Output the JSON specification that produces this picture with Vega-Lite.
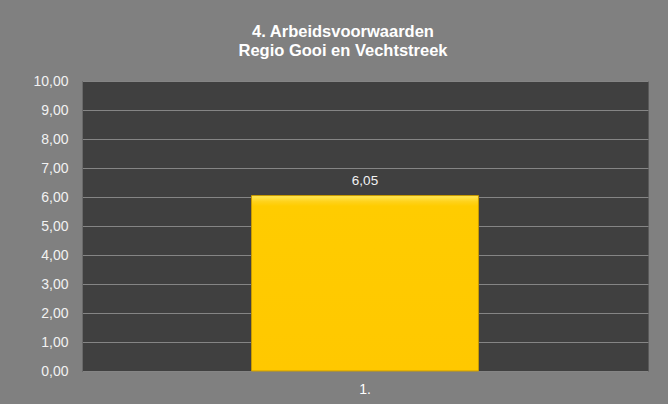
{
  "$schema": "https://vega.github.io/schema/vega-lite/v6.json",
  "width": 566,
  "height": 290,
  "autosize": {"type": "none"},
  "padding": {"left": 82, "top": 81, "right": 20, "bottom": 33},
  "background": "#808080",
  "config": {
    "locale": {"number": {"decimal": ",", "thousands": ".", "grouping": [3], "currency": ["€", ""]}},
    "font": "Liberation Sans",
    "view": {"fill": "#404040", "stroke": "#5a5a5a", "strokeWidth": 1}
  },
  "title": {
    "text": ["4. Arbeidsvoorwaarden", "Regio Gooi en Vechtstreek"],
    "font": "Liberation Sans",
    "fontSize": 16.5,
    "fontWeight": "bold",
    "color": "#ffffff",
    "anchor": "middle",
    "frame": "group",
    "dx": -22,
    "lineHeight": 19,
    "offset": 15
  },
  "data": {"values": [{"cat": "1.", "value": 6.05}]},
  "encoding": {
    "x": {
      "field": "cat",
      "type": "nominal",
      "scale": {"paddingInner": 0, "paddingOuter": 0.747},
      "axis": {
        "title": null,
        "labelAngle": 0,
        "labelColor": "#ffffff",
        "labelFont": "Liberation Sans",
        "labelFontSize": 14,
        "labelPadding": 11,
        "ticks": false,
        "domain": false
      }
    },
    "y": {
      "field": "value",
      "type": "quantitative",
      "scale": {"domain": [0, 10]},
      "axis": {
        "title": null,
        "values": [0, 1, 2, 3, 4, 5, 6, 7, 8, 9, 10],
        "format": ".2f",
        "labelColor": "#f2f2f2",
        "labelFont": "Liberation Sans",
        "labelFontSize": 14,
        "labelPadding": 14,
        "ticks": false,
        "domain": true,
        "domainColor": "#6a6a6a",
        "gridColor": "#858585",
        "gridWidth": 1
      }
    }
  },
  "layer": [
    {
      "mark": {
        "type": "bar",
        "stroke": "#c89a00",
        "strokeWidth": 1,
        "fill": {
          "gradient": "linear",
          "x1": 0, "y1": 0, "x2": 0, "y2": 1,
          "stops": [
            {"offset": 0, "color": "#ffe85a"},
            {"offset": 0.035, "color": "#ffd21a"},
            {"offset": 0.06, "color": "#ffcc00"},
            {"offset": 1, "color": "#ffc800"}
          ]
        }
      }
    },
    {
      "mark": {
        "type": "text",
        "baseline": "alphabetic",
        "dy": -10.5,
        "font": "Liberation Sans",
        "fontSize": 13.5,
        "color": "#f2f2f2"
      },
      "encoding": {
        "text": {"field": "value", "type": "quantitative", "format": ".2f"}
      }
    }
  ]
}
